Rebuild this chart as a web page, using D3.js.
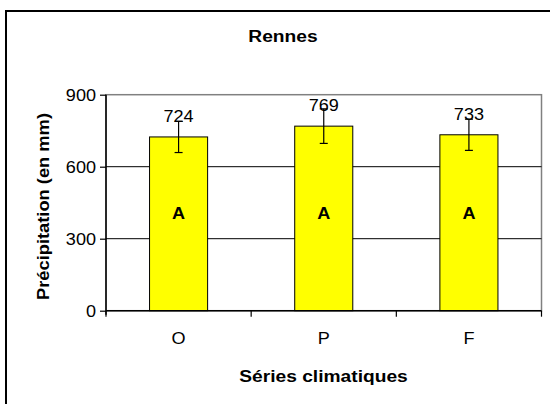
<!DOCTYPE html>
<html>
<head>
<meta charset="utf-8">
<script src="https://cdn.jsdelivr.net/npm/d3@7"></script>
<style>
  html, body { margin: 0; padding: 0; background: #fff; }
  svg { display: block; }
  text { font-family: "Liberation Sans", Arial, sans-serif; fill: #000; }
</style>
</head>
<body>
<svg id="chart" width="550" height="404"></svg>
<script>
// Annual precipitation at Rennes for three climate series
const categories = ["O", "P", "F"];
const values = [724, 769, 733];
const errors = [65, 72, 65];
const groupLetters = ["A", "A", "A"];
const yTicks = [0, 300, 600, 900];
const chartTitle = "Rennes";
const xTitle = "Séries climatiques";
const yTitle = "Précipitation (en mm)";

const svg = d3.select("#chart");
const plot = { left: 106, right: 541.5, top: 94.7, bottom: 310.7 };
const stretch = 1.13; // text is drawn slightly wide

const x = d3.scaleBand().domain(categories).range([plot.left, plot.right]).padding(0);
const y = d3.scaleLinear().domain([0, 900]).range([plot.bottom, plot.top]);
const barW = x.bandwidth() * 0.4;

// helper: place a text at (px,py), optionally rotated, widened horizontally
function placeText(sel, px, py, rot) {
  sel.attr("x", 0).attr("y", 0)
     .attr("transform", `translate(${px},${py})` + (rot ? ` rotate(${rot})` : "") + ` scale(${stretch},1)`);
  return sel;
}

// outer chart frame
svg.append("rect")
  .attr("x", 6).attr("y", 11).attr("width", 600).attr("height", 450)
  .attr("fill", "none").attr("stroke", "#000").attr("stroke-width", 2);

// plot area border
svg.append("rect")
  .attr("x", plot.left).attr("y", plot.top)
  .attr("width", plot.right - plot.left).attr("height", plot.bottom - plot.top)
  .attr("fill", "#fff").attr("stroke", "#808080").attr("stroke-width", 1.5);

// horizontal gridlines
svg.append("g").selectAll("line")
  .data(yTicks.filter(t => t > 0 && t < 900))
  .join("line")
  .attr("x1", plot.left).attr("x2", plot.right)
  .attr("y1", d => y(d)).attr("y2", d => y(d))
  .attr("stroke", "#000").attr("stroke-width", 1);

// bars
svg.append("g").selectAll("rect")
  .data(categories)
  .join("rect")
  .attr("x", (d) => x(d) + x.bandwidth() / 2 - barW / 2)
  .attr("y", (d, i) => y(values[i]))
  .attr("width", barW)
  .attr("height", (d, i) => y(0) - y(values[i]))
  .attr("fill", "#ffff00").attr("stroke", "#000").attr("stroke-width", 1);

// error bars
const eb = svg.append("g").attr("stroke", "#000").attr("stroke-width", 1.2);
categories.forEach((c, i) => {
  const cx = x(c) + x.bandwidth() / 2;
  const lo = y(values[i] - errors[i]), hi = y(values[i] + errors[i]);
  eb.append("line").attr("x1", cx).attr("x2", cx).attr("y1", lo).attr("y2", hi);
  eb.append("line").attr("x1", cx - 4).attr("x2", cx + 4).attr("y1", lo).attr("y2", lo);
  eb.append("line").attr("x1", cx - 4).attr("x2", cx + 4).attr("y1", hi).attr("y2", hi);
});

// value labels above bars
categories.forEach((c, i) => {
  const t = svg.append("text").attr("text-anchor", "middle").style("font-size", "16px").text(values[i]);
  placeText(t, x(c) + x.bandwidth() / 2, y(values[i]) - 15);
});

// significance letters inside bars
categories.forEach((c, i) => {
  const t = svg.append("text").attr("text-anchor", "middle")
    .style("font-size", "16px").style("font-weight", "bold").text(groupLetters[i]);
  placeText(t, x(c) + x.bandwidth() / 2, y(383));
});

// y axis
const yAxis = svg.append("g").attr("transform", `translate(${plot.left},0)`)
  .call(d3.axisLeft(y).tickValues(yTicks).tickSize(6).tickSizeOuter(0).tickPadding(4));
yAxis.select(".domain").attr("stroke", "#000").attr("stroke-width", 1.5)
  .attr("d", `M0,${plot.top}V${plot.bottom + 4}`);
yAxis.selectAll(".tick line").attr("stroke", "#000").attr("stroke-width", 1.2);
yAxis.selectAll(".tick text").each(function (d) {
  const t = d3.select(this);
  t.attr("dy", null).style("font-size", "16px").attr("font-family", null)
   .attr("text-anchor", "end");
  placeText(t, -10, 6);
});

// x axis: labels at band centres, ticks at band boundaries
const xAxis = svg.append("g").attr("transform", `translate(0,${plot.bottom})`)
  .call(d3.axisBottom(x).tickSize(0).tickSizeOuter(0));
xAxis.select(".domain").attr("stroke", "#000").attr("stroke-width", 1.5)
  .attr("d", `M${plot.left},0H${plot.right}`);
xAxis.selectAll(".tick text").each(function () {
  const t = d3.select(this);
  t.attr("dy", null).style("font-size", "16px").attr("font-family", null);
  placeText(t, 0, 33);
});
const bounds = categories.map(c => x(c)).concat([x.range()[1]]);
xAxis.append("g").selectAll("line").data(bounds).join("line")
  .attr("x1", d => d).attr("x2", d => d).attr("y1", 0).attr("y2", 6)
  .attr("stroke", "#000").attr("stroke-width", 1.2);

// titles
placeText(svg.append("text").attr("text-anchor", "middle")
  .style("font-size", "17px").style("font-weight", "bold").text(chartTitle), 283, 42);
placeText(svg.append("text").attr("text-anchor", "middle")
  .style("font-size", "17px").style("font-weight", "bold").text(xTitle), 323.5, 382);
placeText(svg.append("text").attr("text-anchor", "middle")
  .style("font-size", "16.2px").style("font-weight", "bold").text(yTitle), 49, 206.5, -90);
</script>
</body>
</html>
